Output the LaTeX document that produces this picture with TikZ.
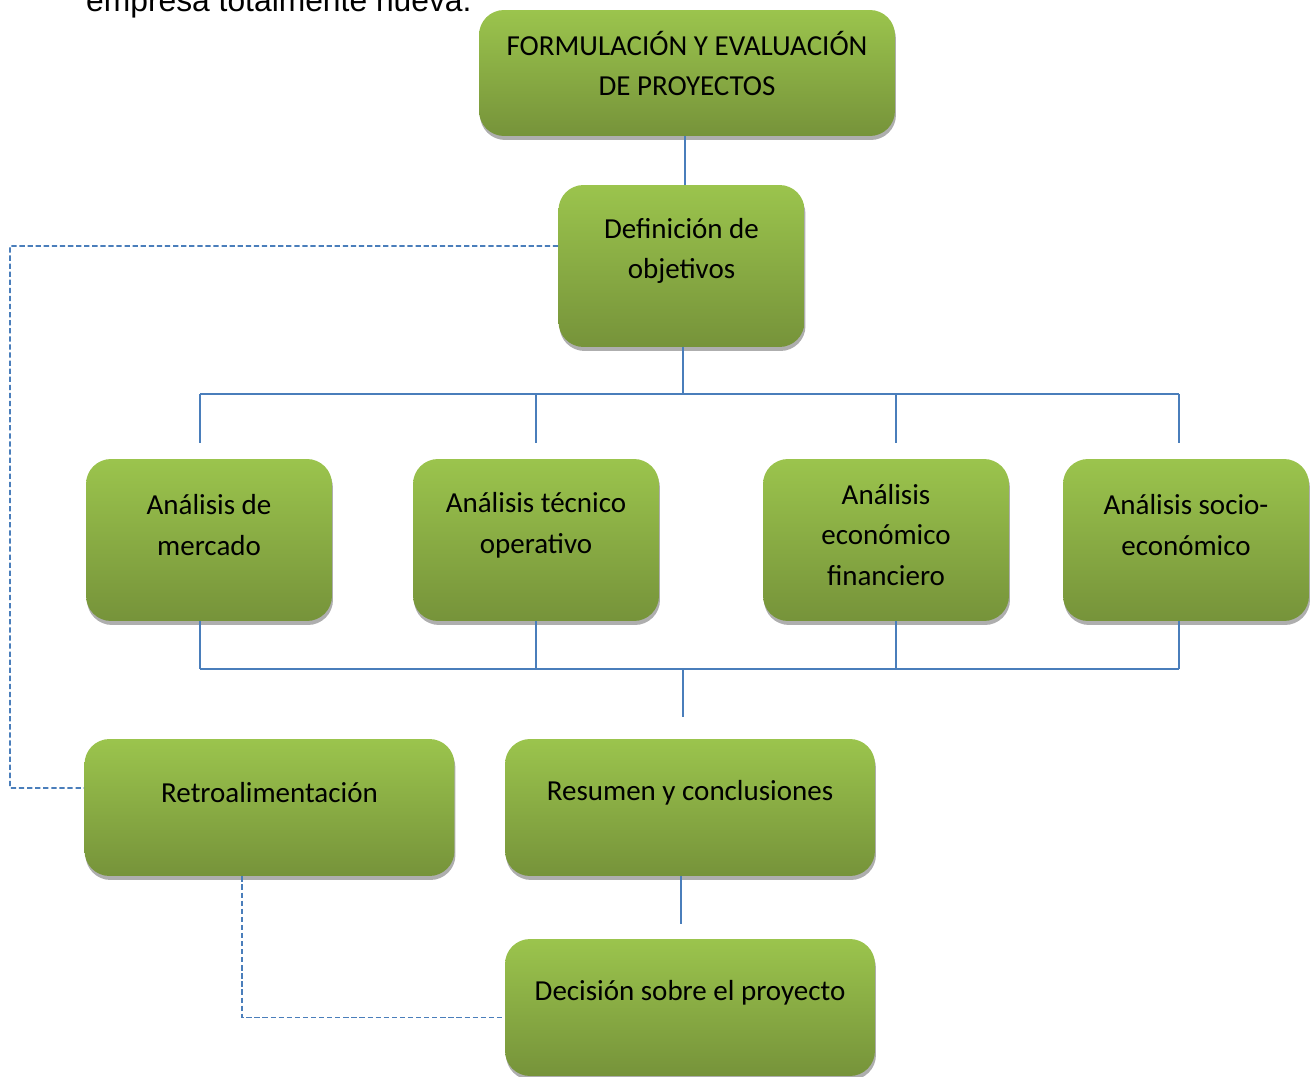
\documentclass[tikz,border=0pt]{standalone}
\usepackage{fontspec}
\setmainfont{Carlito}
\newfontfamily\arialfont{Liberation Sans}
\usetikzlibrary{shadows}
\definecolor{boxtop}{RGB}{155,196,77}
\definecolor{boxbot}{RGB}{118,147,58}
\definecolor{linkblue}{RGB}{74,126,187}
\tikzset{
  box/.style={rounded corners=0.5cm, top color=boxtop, bottom color=boxbot,
    drop shadow={shadow xshift=0.02cm, shadow yshift=-0.08cm, fill=black!70, opacity=0.45}},
  wide/.style={box, minimum width=7.4cm, minimum height=2.74cm},
  tall/.style={box, minimum width=4.92cm, minimum height=3.24cm},
  txt/.style={font=\fontsize{16.5}{23.2}\selectfont, align=center, yshift=0.3cm},
  link/.style={draw=linkblue, line width=1.1pt},
  back/.style={draw=linkblue, line width=1.1pt, dash pattern=on 3pt off 1.6pt}
}
\begin{document}
\begin{tikzpicture}[x=0.02cm,y=-0.02cm]
       \useasboundingbox (0,0) rectangle (1311,1077);
       \node[anchor=base west, font=\arialfont\fontsize{18.1}{22}\selectfont] (intro) at (80,12) {empresa totalmente nueva.};
       \node[box, minimum width=8.32cm, minimum height=2.52cm, label={[txt, yshift=-0.11cm]center:FORMULACIÓN Y EVALUACIÓN\\DE PROYECTOS}] (top) at (687,73) {};
       \node[tall, label={[txt]center:Definición de\\objetivos}] (def) at (681.5,266) {};
       \node[tall, label={[txt]center:Análisis de\\mercado}] (mercado) at (209,540) {};
       \node[tall, label={[txt]center:Análisis técnico\\operativo}] (tecnico) at (536,540) {};
       \node[tall, label={[txt, yshift=-0.2cm]center:Análisis\\económico\\financiero}] (economico) at (886,540) {};
       \node[tall, label={[txt]center:Análisis socio-\\económico}] (socio) at (1186,540) {};
       \node[wide, label={[txt]center:Retroalimentación}] (retro) at (269.5,807.5) {};
       \node[wide, label={[txt]center:Resumen y conclusiones}] (resumen) at (690,807.5) {};
       \node[wide, label={[txt]center:Decisión sobre el proyecto}] (decision) at (690,1007.5) {};
       \coordinate (busA) at (683,394);
       \coordinate (busB) at (683,669);
       \coordinate (loop) at (10,246);
       \coordinate (resin) at ([yshift=0.44cm]resumen.north);
       \draw[link] ([xshift=-0.04cm]top.south) -- ([xshift=-0.04cm]top.south |- def.north);
       \draw[link] (busA |- def.south) -- (busA);
       \draw[link] ([xshift=-0.18cm]mercado.south |- busA) -- ([xshift=-0.14cm]socio.south |- busA);
       \foreach \n/\s in {mercado/-0.18,tecnico/0,economico/0.2,socio/-0.14}
         \draw[link] ([xshift=\s cm]\n.north |- busA) -- ([xshift=\s cm,yshift=0.32cm]\n.north);
       \foreach \n/\s in {mercado/-0.18,tecnico/0,economico/0.2,socio/-0.14}
         \draw[link] ([xshift=\s cm]\n.south) -- ([xshift=\s cm]\n.south |- busB);
       \draw[link] ([xshift=-0.18cm]mercado.south |- busB) -- ([xshift=-0.14cm]socio.south |- busB);
       \draw[link] (busB) -- (busB |- resin);
       \draw[link] ([xshift=-0.18cm]resumen.south) -- ([xshift=-0.18cm,yshift=0.3cm]decision.north);
       \draw[back] ([yshift=0.4cm]def.west) -- (loop) |- ([yshift=0.39cm]retro.west);
       \draw[back] ([xshift=-0.55cm]retro.south) |- ([yshift=-0.2cm]decision.west);
      \end{tikzpicture}
\end{document}
